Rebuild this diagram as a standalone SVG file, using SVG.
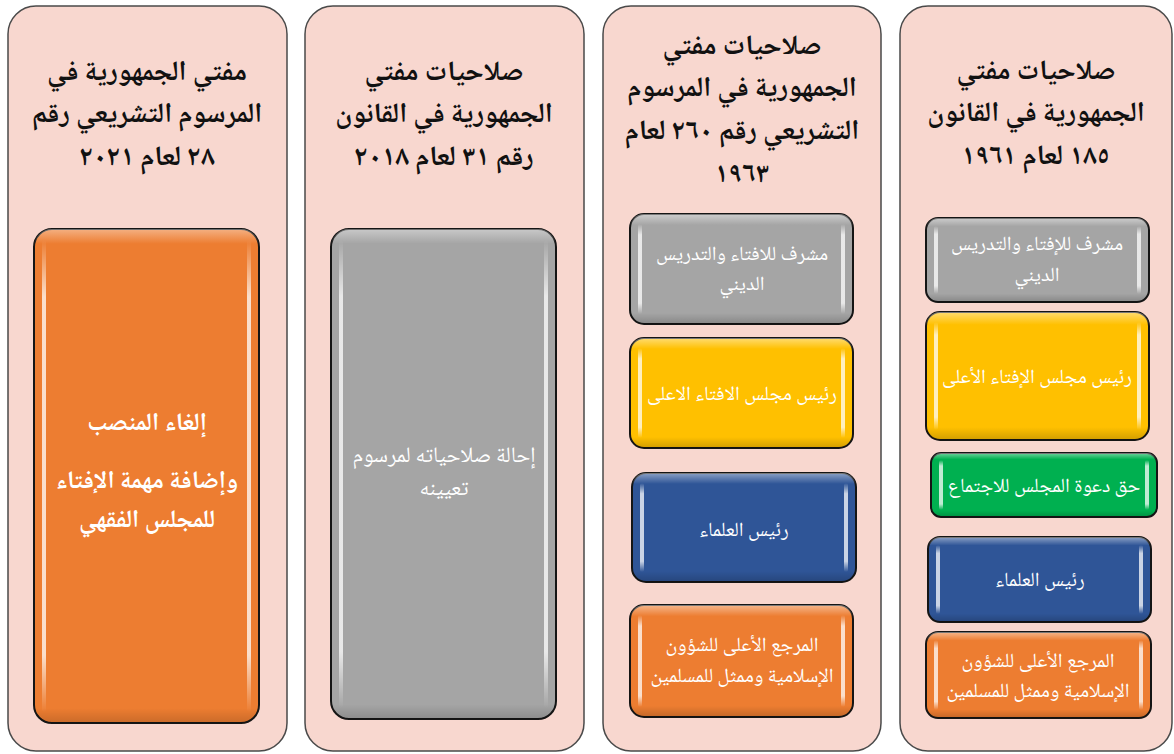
<svg xmlns="http://www.w3.org/2000/svg" width="1174" height="754" viewBox="0 0 1174 754">
<defs>
<linearGradient id="bevel" x1="0" y1="0" x2="0" y2="1">
<stop offset="0" stop-color="#fff" stop-opacity="0.45"/>
<stop offset="0.1" stop-color="#fff" stop-opacity="0"/>
<stop offset="0.9" stop-color="#000" stop-opacity="0"/>
<stop offset="1" stop-color="#000" stop-opacity="0.18"/>
</linearGradient>
<linearGradient id="bevelTall" x1="0" y1="0" x2="0" y2="1">
<stop offset="0" stop-color="#fff" stop-opacity="0.4"/>
<stop offset="0.03" stop-color="#fff" stop-opacity="0"/>
<stop offset="0.97" stop-color="#000" stop-opacity="0"/>
<stop offset="1" stop-color="#000" stop-opacity="0.15"/>
</linearGradient>
<linearGradient id="strip" x1="0" y1="0" x2="0" y2="1">
<stop offset="0" stop-color="#fff" stop-opacity="0"/>
<stop offset="0.12" stop-color="#fff" stop-opacity="0.75"/>
<stop offset="0.88" stop-color="#fff" stop-opacity="0.75"/>
<stop offset="1" stop-color="#fff" stop-opacity="0"/>
</linearGradient>
</defs>
<style>
.panel{fill:#F8D7CF;stroke:#4a4a4a;stroke-width:1.5}
.box{stroke:#151515;stroke-width:2}
.gloss{fill:url(#bevel)}
.glossT{fill:url(#bevelTall)}
.strip{fill:url(#strip)}
.orange{fill:#ED7D31}
.gray{fill:#A5A5A5}
.yellow{fill:#FFC000}
.blue{fill:#2F5597}
.green{fill:#00B050}
.hd{font-family:"Noto Naskh Arabic","Noto Sans Arabic","DejaVu Sans",sans-serif;font-size:28px;font-weight:bold;fill:#111;text-anchor:middle;direction:rtl}
.bt{font-family:"Noto Naskh Arabic","Noto Sans Arabic","DejaVu Sans",sans-serif;font-size:20px;fill:#fff;text-anchor:middle;direction:rtl}
.bt2{font-family:"Noto Naskh Arabic","Noto Sans Arabic","DejaVu Sans",sans-serif;font-size:25px;font-weight:bold;fill:#fff;text-anchor:middle;direction:rtl}
.bt3{font-family:"Noto Naskh Arabic","Noto Sans Arabic","DejaVu Sans",sans-serif;font-size:22px;fill:#fff;text-anchor:middle;direction:rtl}
</style>
<rect width="1174" height="754" fill="#fff"/>

<g id="col1">
<rect class="panel" x="8" y="6" width="279" height="745" rx="28"/>
<text class="hd" x="147" y="80">مفتي الجمهورية في</text>
<text class="hd" x="147" y="122">المرسوم التشريعي رقم</text>
<text class="hd" x="147" y="165">٢٨ لعام ٢٠٢١</text>
</g>
<g id="col1-box">
<rect class="box orange" x="34" y="229" width="225" height="494" rx="18"/>
<rect class="glossT" x="34" y="229" width="225" height="494" rx="18"/>
<rect class="strip" x="42" y="240" width="4" height="472" rx="2"/>
<rect class="strip" x="247" y="240" width="4" height="472" rx="2"/>
<text class="bt2" x="147" y="430">إلغاء المنصب</text>
<text class="bt2" x="147" y="488">وإضافة مهمة الإفتاء</text>
<text class="bt2" x="147" y="527">للمجلس الفقهي</text>
</g>

<g id="col2">
<rect class="panel" x="305" y="6" width="279" height="745" rx="28"/>
<text class="hd" x="444" y="80">صلاحيات مفتي</text>
<text class="hd" x="444" y="122">الجمهورية في القانون</text>
<text class="hd" x="444" y="165">رقم ٣١ لعام ٢٠١٨</text>
</g>
<g id="col2-box">
<rect class="box gray" x="331" y="229" width="225" height="490" rx="18"/>
<rect class="glossT" x="331" y="229" width="225" height="490" rx="18"/>
<rect class="strip" x="339" y="240" width="4" height="468" rx="2"/>
<rect class="strip" x="544" y="240" width="4" height="468" rx="2"/>
<text class="bt3" x="444" y="462">إحالة صلاحياته لمرسوم</text>
<text class="bt3" x="444" y="495">تعيينه</text>
</g>

<g id="col3">
<rect class="panel" x="603" y="6" width="278" height="745" rx="28"/>
<text class="hd" x="742" y="54">صلاحيات مفتي</text>
<text class="hd" x="742" y="96">الجمهورية في المرسوم</text>
<text class="hd" x="742" y="139">التشريعي رقم ٢٦٠ لعام</text>
<text class="hd" x="742" y="182">١٩٦٣</text>
</g>
<g id="col3-gray">
<rect class="box gray" x="630" y="214" width="223" height="110" rx="14"/>
<rect class="gloss" x="630" y="214" width="223" height="110" rx="14"/>
<rect class="strip" x="638" y="224" width="4" height="90" rx="2"/>
<rect class="strip" x="841" y="224" width="4" height="90" rx="2"/>
<text class="bt" x="742" y="260">مشرف للافتاء والتدريس</text>
<text class="bt" x="742" y="290">الديني</text>
</g>
<g id="col3-yellow">
<rect class="box yellow" x="630" y="338" width="223" height="110" rx="14"/>
<rect class="gloss" x="630" y="338" width="223" height="110" rx="14"/>
<rect class="strip" x="638" y="348" width="4" height="90" rx="2"/>
<rect class="strip" x="841" y="348" width="4" height="90" rx="2"/>
<text class="bt" x="742" y="400">رئيس مجلس الافتاء الاعلى</text>
</g>
<g id="col3-blue">
<rect class="box blue" x="632" y="473" width="224" height="109" rx="14"/>
<rect class="gloss" x="632" y="473" width="224" height="109" rx="14"/>
<rect class="strip" x="640" y="483" width="4" height="89" rx="2"/>
<rect class="strip" x="844" y="483" width="4" height="89" rx="2"/>
<text class="bt" x="744" y="536">رئيس العلماء</text>
</g>
<g id="col3-orange">
<rect class="box orange" x="630" y="605" width="223" height="112" rx="14"/>
<rect class="gloss" x="630" y="605" width="223" height="112" rx="14"/>
<rect class="strip" x="638" y="615" width="4" height="92" rx="2"/>
<rect class="strip" x="841" y="615" width="4" height="92" rx="2"/>
<text class="bt" x="742" y="651">المرجع الأعلى للشؤون</text>
<text class="bt" x="742" y="682">الإسلامية وممثل للمسلمين</text>
</g>

<g id="col4">
<rect class="panel" x="900" y="6" width="272" height="745" rx="28"/>
<text class="hd" x="1036" y="79">صلاحيات مفتي</text>
<text class="hd" x="1036" y="121">الجمهورية في القانون</text>
<text class="hd" x="1036" y="164">١٨٥ لعام ١٩٦١</text>
</g>
<g id="col4-gray">
<rect class="box gray" x="926" y="218" width="223" height="84" rx="12"/>
<rect class="gloss" x="926" y="218" width="223" height="84" rx="12"/>
<rect class="strip" x="934" y="226" width="4" height="68" rx="2"/>
<rect class="strip" x="1137" y="226" width="4" height="68" rx="2"/>
<text class="bt" x="1037" y="250">مشرف للإفتاء والتدريس</text>
<text class="bt" x="1037" y="281">الديني</text>
</g>
<g id="col4-yellow">
<rect class="box yellow" x="926" y="312" width="223" height="128" rx="14"/>
<rect class="gloss" x="926" y="312" width="223" height="128" rx="14"/>
<rect class="strip" x="934" y="322" width="4" height="108" rx="2"/>
<rect class="strip" x="1137" y="322" width="4" height="108" rx="2"/>
<text class="bt" x="1037" y="383">رئيس مجلس الإفتاء الأعلى</text>
</g>
<g id="col4-green">
<rect class="box green" x="931" y="453" width="226" height="64" rx="10"/>
<rect class="gloss" x="931" y="453" width="226" height="64" rx="10"/>
<rect class="strip" x="939" y="460" width="4" height="50" rx="2"/>
<rect class="strip" x="1145" y="460" width="4" height="50" rx="2"/>
<text class="bt" x="1044" y="492">حق دعوة المجلس للاجتماع</text>
</g>
<g id="col4-blue">
<rect class="box blue" x="928" y="537" width="223" height="85" rx="12"/>
<rect class="gloss" x="928" y="537" width="223" height="85" rx="12"/>
<rect class="strip" x="936" y="545" width="4" height="69" rx="2"/>
<rect class="strip" x="1139" y="545" width="4" height="69" rx="2"/>
<text class="bt" x="1040" y="586">رئيس العلماء</text>
</g>
<g id="col4-orange">
<rect class="box orange" x="926" y="632" width="225" height="86" rx="12"/>
<rect class="gloss" x="926" y="632" width="225" height="86" rx="12"/>
<rect class="strip" x="934" y="640" width="4" height="70" rx="2"/>
<rect class="strip" x="1139" y="640" width="4" height="70" rx="2"/>
<text class="bt" x="1038" y="667">المرجع الأعلى للشؤون</text>
<text class="bt" x="1038" y="697">الإسلامية وممثل للمسلمين</text>
</g>
<g id="connectors"/>
</svg>
